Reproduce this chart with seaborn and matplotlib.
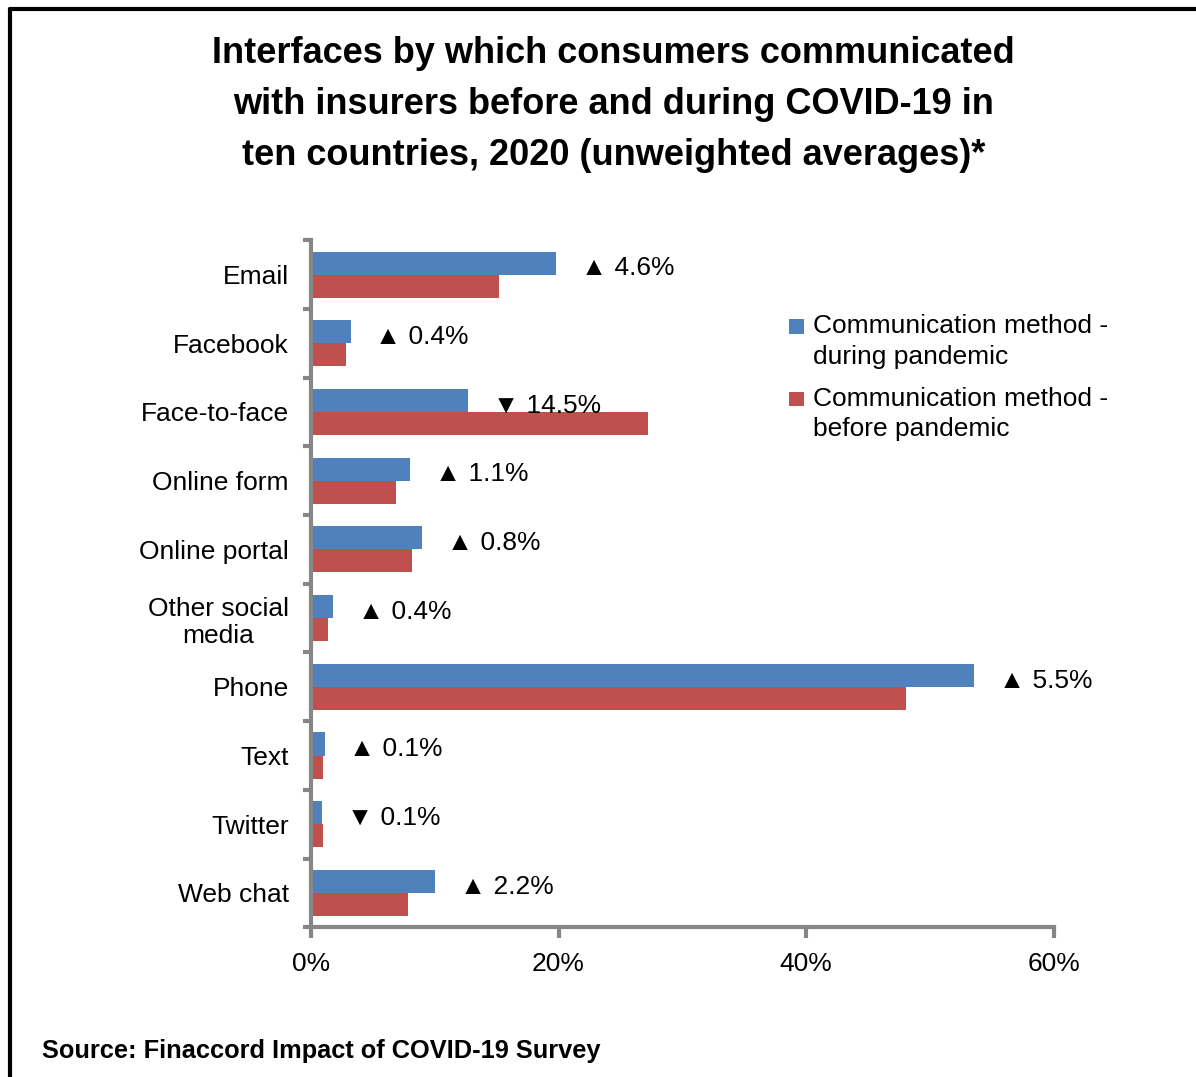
import numpy as np
import pandas as pd
import seaborn as sns
import matplotlib.pyplot as plt
from matplotlib.ticker import FixedLocator, PercentFormatter
from matplotlib.legend_handler import HandlerPatch
from matplotlib.patches import Rectangle

# data (percent of respondents)
channels = ['Email', 'Facebook', 'Face-to-face', 'Online form', 'Online portal',
            'Other social\nmedia', 'Phone', 'Text', 'Twitter', 'Web chat']
during = [19.8, 3.2, 12.7, 8.0, 9.0, 1.8, 53.6, 1.1, 0.9, 10.0]
before = [15.2, 2.8, 27.2, 6.9, 8.2, 1.4, 48.1, 1.0, 1.0, 7.8]
changes = ['▲ 4.6%', '▲ 0.4%', '▼ 14.5%', '▲ 1.1%', '▲ 0.8%',
           '▲ 0.4%', '▲ 5.5%', '▲ 0.1%', '▼ 0.1%', '▲ 2.2%']
series = ['Communication method -\nduring pandemic', 'Communication method -\nbefore pandemic']

df = pd.DataFrame({'channel': channels * 2,
                   'value': during + before,
                   'series': [series[0]] * len(channels) + [series[1]] * len(channels)})

sns.set_style("white")
plt.rcParams['font.family'] = ['Liberation Sans', 'DejaVu Sans']
plt.rcParams['text.color'] = 'black'
plt.rcParams['xtick.labelcolor'] = 'black'
plt.rcParams['ytick.labelcolor'] = 'black'

fig = plt.figure(figsize=(11.96, 10.77), dpi=100)
ax = fig.add_axes([0.26, 0.139, 0.621, 0.638])

sns.barplot(data=df, y='channel', x='value', hue='series', hue_order=series,
            order=channels, palette=['#4F81BD', '#C0504D'], width=0.67,
            orient='h', saturation=1, linewidth=0, ax=ax, legend=True)

# change labels next to the "during" bars
for i, (d, lab) in enumerate(zip(during, changes)):
    ax.text(d + 2.0, i - 0.09, lab, fontsize=19, va='center', ha='left',
            family=['Liberation Sans', 'DejaVu Sans'])

ax.set_xlim(0, 60)
ax.set_ylim(9.5, -0.5)
ax.set_xticks([0, 20, 40, 60])
ax.xaxis.set_major_formatter(PercentFormatter(decimals=0))
ax.set_xlabel('')
ax.set_ylabel('')

# ticks on y axis at category boundaries
ax.yaxis.set_minor_locator(FixedLocator(np.arange(-0.5, 10, 1)))
ax.tick_params(axis='y', which='major', length=0, labelsize=19, pad=16)
ax.tick_params(axis='y', which='minor', length=6, width=3, color='#868686', left=True)
ax.tick_params(axis='x', which='major', length=8, width=3, color='#868686',
               bottom=True, labelsize=19, pad=10)
for lab in ax.get_yticklabels():
    lab.set_multialignment('center')

for s in ['top', 'right']:
    ax.spines[s].set_visible(False)
for s in ['left', 'bottom']:
    ax.spines[s].set_color('#868686')
    ax.spines[s].set_linewidth(3)


# legend square sits level with the first text line
def top_square(legend, orig_handle, xdescent, ydescent, width, height, fontsize):
    s = 0.55 * fontsize
    return Rectangle((-xdescent, -ydescent + height / 2 + 0.33 * fontsize), s, s)


handles, labels = ax.get_legend_handles_labels()
ax.legend(handles, labels, loc='upper left', bbox_to_anchor=(0.63, 0.908), frameon=False,
          fontsize=19, handlelength=0.55, handleheight=2.0, handletextpad=0.35,
          labelspacing=0.68, borderaxespad=0,
          handler_map={h: HandlerPatch(patch_func=top_square) for h in handles})
for t in ax.get_legend().get_texts():
    t.set_linespacing(1.35)

fig.text(0.513, 0.967, 'Interfaces by which consumers communicated\n'
         'with insurers before and during COVID-19 in\n'
         'ten countries, 2020 (unweighted averages)*',
         ha='center', va='top', fontsize=26, fontweight='bold', linespacing=1.6)
fig.text(0.035, 0.018, 'Source: Finaccord Impact of COVID-19 Survey',
         ha='left', va='baseline', fontsize=18.3, fontweight='bold')

# outer frame (top and left edges visible)
fig.add_artist(plt.Line2D([0.008, 1.0], [0.9915, 0.9915], color='black', lw=3))
fig.add_artist(plt.Line2D([0.008, 0.008], [0.0, 0.9915], color='black', lw=3))

fig.savefig('out.png', dpi=100)
